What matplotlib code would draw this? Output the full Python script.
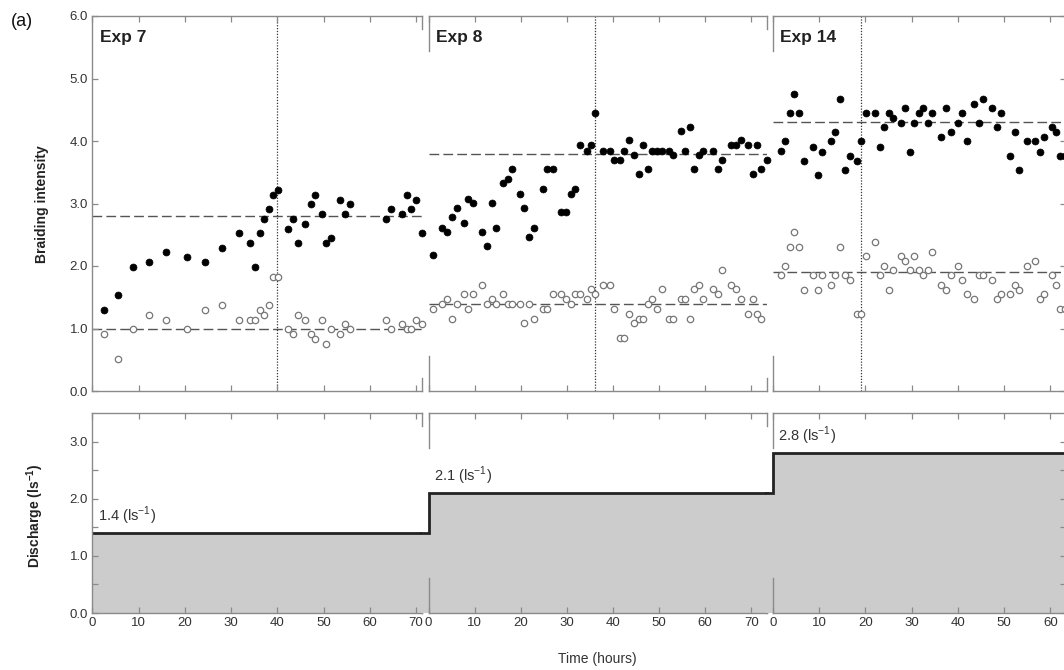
import matplotlib
matplotlib.use("Agg")
import matplotlib.pyplot as plt
import numpy as np

plt.rcParams['font.family'] = ['Liberation Sans', 'DejaVu Sans']
plt.rcParams['mathtext.fontset'] = 'custom'
plt.rcParams['mathtext.rm'] = 'Liberation Sans'
plt.rcParams['mathtext.bf'] = 'Liberation Sans:bold'

# ---------------- data ----------------
exp_names = ["Exp 7", "Exp 8", "Exp 14"]
discharge = [1.4, 2.1, 2.8]
discharge_labels = ["1.4 (ls$^{\\mathrm{-1}}$)", "2.1 (ls$^{\\mathrm{-1}}$)", "2.8 (ls$^{\\mathrm{-1}}$)"]
mean_filled = [2.8, 3.8, 4.3]
mean_open = [1.0, 1.4, 1.9]
change_time = [40, 36, 19]

t7 = [2.6, 5.5, 8.7, 12.3, 15.9, 20.4, 24.3, 28.1, 31.7, 34.2, 35.2, 36.2, 37.2, 38.2,
      39.1, 40.1, 42.3, 43.3, 44.5, 46.0, 47.2, 48.2, 49.6, 50.5, 51.6, 53.6, 54.7, 55.7,
      63.6, 64.5, 67.0, 68.1, 69.0, 70.1, 71.3]
filled7 = [1.29, 1.53, 1.98, 2.07, 2.22, 2.14, 2.07, 2.29, 2.53, 2.37, 1.98, 2.53, 2.75, 2.91,
           3.14, 3.22, 2.60, 2.75, 2.37, 2.68, 2.99, 3.14, 2.84, 2.37, 2.45, 3.06, 2.84, 2.99,
           2.75, 2.91, 2.84, 3.14, 2.91, 3.06, 2.53]
open7 = [0.91, 0.52, 1.00, 1.22, 1.14, 1.00, 1.29, 1.38, 1.14, 1.14, 1.14, 1.29, 1.22, 1.38,
         1.83, 1.83, 1.00, 0.91, 1.22, 1.14, 0.91, 0.83, 1.14, 0.76, 1.00, 0.91, 1.07, 1.00,
         1.14, 1.00, 1.07, 1.00, 1.00, 1.14, 1.07]

t8 = [0.9, 3.0, 4.1, 5.1, 6.1, 7.6, 8.6, 9.6, 11.7, 12.7, 13.7, 14.7, 16.2, 17.2, 18.2,
      19.8, 20.8, 21.7, 22.8, 24.9, 25.7, 26.9, 28.8, 29.8, 30.8, 31.8, 32.8, 34.3, 35.3,
      36.2, 37.9, 39.3, 40.2, 41.5, 42.5, 43.5, 44.6, 45.6, 46.6, 47.6, 48.5, 49.6, 50.6,
      52.1, 53.1, 54.7, 55.7, 56.6, 57.6, 58.6, 59.6, 61.7, 62.7, 63.7, 65.7, 66.7, 67.8,
      69.3, 70.4, 71.2, 72.2, 73.4]
filled8 = [2.17, 2.61, 2.54, 2.78, 2.93, 2.69, 3.08, 3.01, 2.54, 2.32, 3.01, 2.61, 3.33, 3.40,
           3.55, 3.15, 2.93, 2.47, 2.61, 3.23, 3.55, 3.55, 2.86, 2.86, 3.15, 3.23, 3.94, 3.84,
           3.94, 4.45, 3.84, 3.84, 3.70, 3.70, 3.84, 4.01, 3.77, 3.47, 3.94, 3.55, 3.84, 3.84,
           3.84, 3.84, 3.77, 4.16, 3.84, 4.23, 3.55, 3.77, 3.84, 3.84, 3.55, 3.70, 3.94, 3.94,
           4.01, 3.94, 3.47, 3.94, 3.55, 3.70]
open8 = [1.32, 1.39, 1.47, 1.16, 1.39, 1.55, 1.32, 1.55, 1.70, 1.39, 1.47, 1.39, 1.55, 1.39,
         1.39, 1.39, 1.09, 1.39, 1.16, 1.32, 1.32, 1.55, 1.55, 1.47, 1.39, 1.55, 1.55, 1.47,
         1.63, 1.55, 1.70, 1.70, 1.32, 0.85, 0.85, 1.24, 1.09, 1.16, 1.16, 1.39, 1.47, 1.32,
         1.63, 1.16, 1.16, 1.47, 1.47, 1.16, 1.63, 1.70, 1.47, 1.63, 1.55, 1.93, 1.70, 1.63,
         1.47, 1.24, 1.47, 1.24, 1.16]

t14 = [1.7, 2.7, 3.7, 4.6, 5.7, 6.6, 8.6, 9.7, 10.5, 12.6, 13.5, 14.6, 15.6, 16.7, 18.1,
       19.0, 20.1, 22.1, 23.2, 24.1, 25.0, 26.0, 27.6, 28.6, 29.6, 30.6, 31.5, 32.5, 33.5,
       34.5, 36.4, 37.4, 38.5, 40.0, 41.0, 42.0, 43.5, 44.5, 45.5, 47.4, 48.4, 49.4, 51.3,
       52.3, 53.3, 54.9, 56.7, 57.7, 58.7, 60.4, 61.3, 62.2, 63.1]
filled14 = [3.84, 4.00, 4.45, 4.76, 4.45, 3.68, 3.91, 3.46, 3.83, 4.00, 4.14, 4.67, 3.53, 3.76,
            3.68, 4.00, 4.45, 4.45, 3.91, 4.22, 4.45, 4.37, 4.29, 4.53, 3.83, 4.29, 4.45, 4.53,
            4.29, 4.45, 4.07, 4.53, 4.14, 4.29, 4.45, 4.00, 4.60, 4.29, 4.67, 4.53, 4.22, 4.45,
            3.76, 4.14, 3.53, 4.00, 4.00, 3.83, 4.07, 4.22, 4.14, 3.76, 3.76]
open14 = [1.86, 2.00, 2.31, 2.54, 2.31, 1.62, 1.86, 1.62, 1.86, 1.70, 1.86, 2.31, 1.86, 1.78,
          1.24, 1.24, 2.16, 2.39, 1.86, 2.00, 1.62, 1.93, 2.16, 2.08, 1.93, 2.16, 1.93, 1.86,
          1.93, 2.23, 1.70, 1.62, 1.86, 2.00, 1.78, 1.55, 1.47, 1.86, 1.86, 1.78, 1.47, 1.55,
          1.55, 1.70, 1.62, 2.00, 2.08, 1.47, 1.55, 1.86, 1.70, 1.31, 1.31]

times = [t7, t8, t14]
filled = [filled7, filled8, filled14]
opens = [open7, open8, open14]

# ---------------- layout ----------------
W, H = 1064, 670
fig = plt.figure(figsize=(W / 100, H / 100), dpi=100)

px_left = [92.3, 428.5, 773.0]
px_right = [422.0, 767.0, 1066.0]
xmax = [71.3, 73.4, 63.4]
top_px = (16, 391)
bot_px = (413, 613)

SPINE = "#8a8a8a"
TXT = "#333333"


def axrect(i, ypx):
    l = px_left[i] / W
    w = (px_right[i] - px_left[i]) / W
    b = 1 - ypx[1] / H
    h = (ypx[1] - ypx[0]) / H
    return [l, b, w, h]


top_axes, bot_axes = [], []
for i in range(3):
    top_axes.append(fig.add_axes(axrect(i, top_px)))
    bot_axes.append(fig.add_axes(axrect(i, bot_px)))

for i in range(3):
    for ax, ylim, is_top in ((top_axes[i], (0, 6.0), True), (bot_axes[i], (0, 3.5), False)):
        ax.set_xlim(0, xmax[i])
        ax.set_ylim(*ylim)
        for s in ax.spines.values():
            s.set_color(SPINE)
            s.set_linewidth(1.0)
        ax.spines['left'].set_visible(i == 0)
        ax.spines['right'].set_visible(i == 2)
        ax.set_xticks(np.arange(0, xmax[i] + 0.01, 10))
        ax.tick_params(axis='both', which='both', direction='in', color=SPINE,
                       labelcolor=TXT, labelsize=9.5, width=0.9, length=4,
                       top=True, bottom=True, left=(i == 0), right=(i == 2), pad=3)
        if is_top:
            ax.set_yticks(np.arange(0, 6.01, 1.0))
            ax.tick_params(axis='x', labelbottom=False)
        else:
            ax.set_yticks(np.arange(0, 3.01, 1.0))
            ax.set_yticks(np.arange(0.5, 3.5, 1.0), minor=True)
            ax.set_xticklabels([str(int(v)) for v in np.arange(0, xmax[i] + 0.01, 10)])
        if i == 0:
            ax.set_yticklabels([f"{v:.1f}" for v in ax.get_yticks()])
        else:
            ax.tick_params(axis='y', labelleft=False, labelright=False)
        # partial (broken) spines
        if i > 0:
            frac = 35 / (375 if is_top else 200)
            for y0, y1 in ((0, frac), (1 - frac, 1)):
                ax.plot([0, 0], [y0, y1], transform=ax.transAxes, color=SPINE,
                        lw=1.0, clip_on=False, zorder=5)
        if i < 2:
            frac = 13 / (375 if is_top else 200)
            for y0, y1 in ((0, frac), (1 - frac, 1)):
                ax.plot([1, 1], [y0, y1], transform=ax.transAxes, color=SPINE,
                        lw=1.0, clip_on=False, zorder=5)

# ---------------- top panels ----------------
for i in range(3):
    ax = top_axes[i]
    ax.axhline(mean_filled[i], color="#555555", lw=1.0, dashes=(7, 3), zorder=1)
    ax.axhline(mean_open[i], color="#555555", lw=1.0, dashes=(7, 3), zorder=1)
    ax.axvline(change_time[i], color="#333333", lw=0.9, ls=(0, (1, 1.3)), zorder=1)
    to = times[i][:len(opens[i])]
    ax.plot(to, opens[i], 'o', ms=4.6, mfc='white', mec='#777777', mew=0.9,
            clip_on=False, zorder=3)
    ax.plot(times[i], filled[i], 'o', ms=5.0, mfc='black', mec='black', mew=0.5,
            clip_on=False, zorder=4)
    ax.text(1.6, 5.65, exp_names[i], fontsize=12.5, fontweight='bold', color='#222222',
            va='center', ha='left')

# ---------------- bottom panels ----------------
gap_hours = [(px_left[i] - px_right[i - 1]) / ((px_right[i] - px_left[i]) / xmax[i])
             if i > 0 else 0 for i in range(3)]
for i in range(3):
    ax = bot_axes[i]
    q = discharge[i]
    if i == 0:
        xs = [0, xmax[i]]
        ys = [q, q]
        ax.fill_between(xs, 0, ys, color="#cccccc", lw=0, zorder=0)
        ax.plot(xs, ys, color="#222222", lw=2.0, solid_capstyle='butt', zorder=2)
    else:
        g = gap_hours[i] + 0.3
        qp = discharge[i - 1]
        ax.fill_between([-g, 0], 0, [qp, qp], color="#cccccc", lw=0, zorder=0, clip_on=False)
        ax.fill_between([0, xmax[i]], 0, [q, q], color="#cccccc", lw=0, zorder=0)
        ax.plot([-g, 0, 0, xmax[i]], [qp, qp, q, q], color="#222222", lw=2.0,
                clip_on=False, zorder=2, solid_joinstyle='miter')
    ax.text(1.3 if i != 2 else 1.0, q + 0.1,
            discharge_labels[i], fontsize=10.5, color=TXT, ha='left', va='bottom')

# ---------------- labels ----------------
fig.text(42 / W, 1 - 204 / H, "Braiding intensity", rotation=90, fontsize=10,
         fontweight='bold', color='#222222', ha='center', va='center')
fig.text(35 / W, 1 - 516 / H, "Discharge (ls$^{\\mathbf{-1}}$)", rotation=90, fontsize=10,
         fontweight='bold', color='#222222', ha='center', va='center')
fig.text(597 / W, 1 - 659 / H, "Time (hours)", fontsize=10, color=TXT,
         ha='center', va='center')
fig.text(22 / W, 1 - 21 / H, "(a)", fontsize=13, color='#111111', ha='center', va='center')

fig.savefig("out.png", dpi=100)
